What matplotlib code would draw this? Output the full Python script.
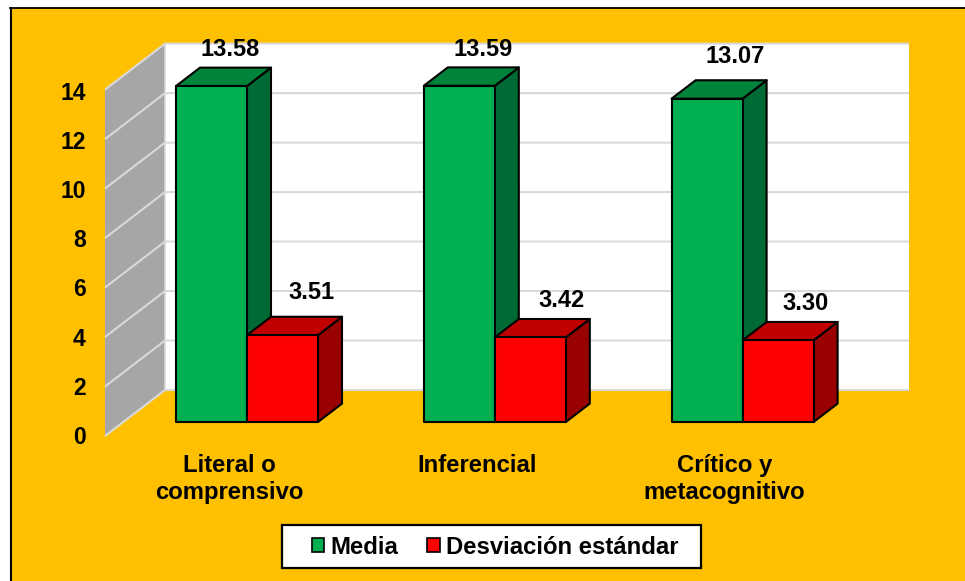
import matplotlib
matplotlib.use("Agg")
import matplotlib.pyplot as plt
from matplotlib.patches import Polygon, Rectangle, Patch
from matplotlib.lines import Line2D

categories = ["Literal o\ncomprensivo", "Inferencial", "Crítico y\nmetacognitivo"]
media = [13.58, 13.59, 13.07]
desviacion = [3.51, 3.42, 3.30]
y_ticks = [0, 2, 4, 6, 8, 10, 12, 14]
series_names = ["Media", "Desviación estándar"]

# label nudges in pixels (x, y up), as placed by hand in the reference
media_offsets = [(19, 37), (24, 36), (28.5, 42)]
desv_offsets = [(28.5, 43), (31.5, 37), (27.5, 37)]

plt.rcParams["font.family"] = ["Liberation Sans", "DejaVu Sans"]
plt.rcParams["font.weight"] = "bold"

W, H = 965, 581
ORANGE = "#FFC000"
fig = plt.figure(figsize=(W / 100, H / 100), dpi=100, facecolor="white")

# page frame
def fx(p): return p / W
def fy(p): return 1 - p / H
fig.patches.append(Rectangle((fx(11), 0), 1 - fx(11), fy(8), transform=fig.transFigure,
                             facecolor=ORANGE, edgecolor="none", zorder=-5))
fig.add_artist(Line2D([fx(11), fx(11)], [0, fy(8)], color="black", lw=1.5, transform=fig.transFigure))
fig.add_artist(Line2D([fx(10), 1], [fy(8), fy(8)], color="black", lw=1.3, transform=fig.transFigure))

ax = fig.add_axes([0, 0, 1, 1])
ax.patch.set_alpha(0)
ax.axis("off")

PX_X = 247.8       # pixels per category
PX_Y = 24.74       # pixels per value unit
X0, Y0 = 247.0, 422.0
ax.set_xlim(-X0 / PX_X, (W - X0) / PX_X)
ax.set_ylim(-(H - Y0) / PX_Y, Y0 / PX_Y)

# depth of the 3-D box, in data units
DEPTH_X = 60 / PX_X
DEPTH_Y = 46 / PX_Y
WALL_L = (105 - X0) / PX_X
WALL_R = (849 - X0) / PX_X
FRONT_DEPTH = 14 / 46   # depth at which the bars' front faces stand
BAR_DEPTH = 0.4
BAR_W = 71 / PX_X

def proj(x, v, d):
    """data position of a point at category x, value v, depth d (0 front, 1 back)"""
    return (x + d * DEPTH_X, v - (FRONT_DEPTH - d) * DEPTH_Y)

top = max(y_ticks)
# back wall
ax.add_patch(Polygon([proj(WALL_L, 0, 1), proj(WALL_R, 0, 1), proj(WALL_R, top, 1), proj(WALL_L, top, 1)],
                     facecolor="white", edgecolor="none", zorder=1))
# side wall
ax.add_patch(Polygon([proj(WALL_L, 0, 0), proj(WALL_L, 0, 1), proj(WALL_L, top, 1), proj(WALL_L, top, 0)],
                     facecolor="#A6A6A6", edgecolor="none", zorder=1))
# gridlines
for t in y_ticks:
    pts = [proj(WALL_L, t, 0), proj(WALL_L, t, 1), proj(WALL_R, t, 1)]
    ax.plot([p[0] for p in pts], [p[1] for p in pts], color="#D9D9D9", lw=1.5, zorder=2,
            solid_joinstyle="miter", solid_capstyle="butt")
ax.plot(*zip(proj(WALL_L, 0, 1), proj(WALL_L, top, 1)), color="#D9D9D9", lw=1.2, zorder=2)

def bar3d(x_left, value, face, topc, sidec, z):
    xr = x_left + BAR_W
    dx, dy = BAR_DEPTH * DEPTH_X, BAR_DEPTH * DEPTH_Y
    kw = dict(edgecolor="black", lw=1.5, joinstyle="round", zorder=z)
    ax.add_patch(Polygon([(xr, 0), (xr + dx, dy), (xr + dx, value + dy), (xr, value)], facecolor=sidec, **kw))
    ax.add_patch(Polygon([(x_left, value), (xr, value), (xr + dx, value + dy), (x_left + dx, value + dy)],
                         facecolor=topc, **kw))
    ax.add_patch(Rectangle((x_left, 0), BAR_W, value, facecolor=face, **kw))

for i in range(len(categories)):
    bar3d(i - BAR_W, media[i], "#00B050", "#00843C", "#006A35", 3 + i)
    bar3d(i, desviacion[i], "#FF0000", "#C00000", "#990000", 3.5 + i)

# value labels
for i in range(len(categories)):
    for val, off, xl in ((media[i], media_offsets[i], i - BAR_W), (desviacion[i], desv_offsets[i], i)):
        ax.annotate(f"{val:.2f}", (xl + BAR_W / 2, val), xytext=(off[0] * 0.72, off[1] * 0.72),
                    textcoords="offset points", ha="center", va="center", fontsize=17,
                    fontweight="bold", color="black", zorder=10)

# y tick labels
for t in y_ticks:
    x, y = proj(WALL_L, t * 0.993, 0)
    ax.annotate(str(t), (x, y), xytext=(-19.5 * 0.72, -1.0), textcoords="offset points", ha="right",
                va="center", fontsize=16.5, fontweight="bold", color="black")

# category labels, one baseline per line
for i, c in enumerate(categories):
    for j, line in enumerate(c.split("\n")):
        ax.annotate(line, (i, 0), xytext=(-18 * 0.72, -(50 + 27.5 * j) * 0.72), textcoords="offset points",
                    ha="center", va="baseline", fontsize=17.2, fontweight="bold", color="black")

# legend
fig.patches.append(Rectangle((fx(281.5), fy(568)), (701 - 281.5) / W, (568 - 525) / H, transform=fig.transFigure,
                             facecolor="white", edgecolor="black", lw=1.6, zorder=5))
handles = [Patch(facecolor="#00B050", edgecolor="black", lw=1.2),
           Patch(facecolor="#FF0000", edgecolor="black", lw=1.2)]
fig.legend(handles, series_names, loc="center left", bbox_to_anchor=(fx(311.5), fy(547)), borderaxespad=0, borderpad=0,
           ncol=2, frameon=False, fontsize=17.2, handlelength=0.54, handleheight=0.54, handletextpad=0.25,
           columnspacing=1.2)

fig.savefig("out.png", dpi=100)
